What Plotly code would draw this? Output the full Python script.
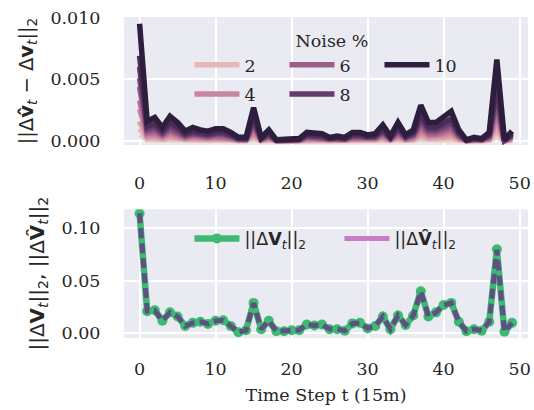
import plotly.graph_objects as go

# ---------------- data ----------------
time_steps = list(range(50))

noise_levels = [1, 2, 3, 4, 5, 6, 7, 8, 9, 10]
legend_levels = [2, 4, 6, 8, 10]

# ||Δv̂_t − Δv_t||_2 per noise level
noise_1 = [50e-5, 8e-5, 10e-5, 6e-5, 10e-5, 8e-5, 4e-5, 6e-5, 5e-5, 4e-5, 5e-5, 5e-5, 4e-5, 2e-5, 2e-5, 14e-5, 2e-5, 5e-5, 1e-5, 1e-5,
           1e-5, 1e-5, 4e-5, 3e-5, 3e-5, 2e-5, 2e-5, 2e-5, 4e-5, 4e-5, 3e-5, 3e-5, 7e-5, 2e-5, 8e-5, 3e-5, 5e-5, 15e-5, 8e-5, 8e-5,
           10e-5, 12e-5, 5e-5, 1e-5, 2e-5, 1e-5, 4e-5, 35e-5, 1e-5, 4e-5]
noise_2 = [100e-5, 18e-5, 21e-5, 12e-5, 22e-5, 17e-5, 9e-5, 12e-5, 10e-5, 9e-5, 11e-5, 11e-5, 8e-5, 3e-5, 3e-5, 30e-5, 3e-5, 10e-5, 1e-5, 1e-5,
           2e-5, 2e-5, 8e-5, 7e-5, 7e-5, 3e-5, 4e-5, 3e-5, 8e-5, 8e-5, 6e-5, 7e-5, 14e-5, 4e-5, 17e-5, 6e-5, 10e-5, 32e-5, 17e-5, 17e-5,
           21e-5, 26e-5, 10e-5, 1e-5, 3e-5, 2e-5, 8e-5, 75e-5, 1e-5, 9e-5]
noise_3 = [160e-5, 29e-5, 34e-5, 20e-5, 36e-5, 27e-5, 14e-5, 20e-5, 16e-5, 14e-5, 18e-5, 18e-5, 13e-5, 5e-5, 5e-5, 49e-5, 5e-5, 16e-5, 2e-5, 2e-5,
           4e-5, 4e-5, 13e-5, 11e-5, 11e-5, 5e-5, 7e-5, 5e-5, 13e-5, 13e-5, 9e-5, 11e-5, 23e-5, 7e-5, 27e-5, 9e-5, 16e-5, 52e-5, 27e-5, 27e-5,
           34e-5, 43e-5, 16e-5, 2e-5, 5e-5, 4e-5, 13e-5, 120e-5, 2e-5, 14e-5]
noise_4 = [260e-5, 43e-5, 51e-5, 30e-5, 54e-5, 41e-5, 22e-5, 30e-5, 24e-5, 22e-5, 27e-5, 27e-5, 19e-5, 8e-5, 8e-5, 73e-5, 8e-5, 24e-5, 3e-5, 3e-5,
           5e-5, 5e-5, 19e-5, 16e-5, 16e-5, 8e-5, 11e-5, 8e-5, 19e-5, 19e-5, 14e-5, 16e-5, 35e-5, 11e-5, 41e-5, 14e-5, 24e-5, 78e-5, 41e-5, 41e-5,
           51e-5, 65e-5, 24e-5, 3e-5, 8e-5, 5e-5, 19e-5, 180e-5, 3e-5, 22e-5]
noise_5 = [330e-5, 58e-5, 68e-5, 40e-5, 72e-5, 54e-5, 29e-5, 40e-5, 32e-5, 29e-5, 36e-5, 36e-5, 25e-5, 11e-5, 11e-5, 97e-5, 11e-5, 32e-5, 4e-5, 4e-5,
           7e-5, 7e-5, 25e-5, 22e-5, 22e-5, 11e-5, 14e-5, 11e-5, 25e-5, 25e-5, 18e-5, 22e-5, 47e-5, 14e-5, 54e-5, 18e-5, 32e-5, 104e-5, 54e-5, 54e-5,
           68e-5, 86e-5, 32e-5, 4e-5, 11e-5, 7e-5, 25e-5, 240e-5, 4e-5, 29e-5]
noise_6 = [440e-5, 72e-5, 86e-5, 50e-5, 90e-5, 68e-5, 36e-5, 50e-5, 41e-5, 36e-5, 45e-5, 45e-5, 32e-5, 14e-5, 14e-5, 122e-5, 14e-5, 41e-5, 5e-5, 5e-5,
           9e-5, 9e-5, 32e-5, 27e-5, 27e-5, 14e-5, 18e-5, 14e-5, 32e-5, 32e-5, 23e-5, 27e-5, 59e-5, 18e-5, 68e-5, 23e-5, 41e-5, 131e-5, 68e-5, 68e-5,
           86e-5, 108e-5, 41e-5, 5e-5, 14e-5, 9e-5, 32e-5, 300e-5, 5e-5, 36e-5]
noise_7 = [510e-5, 86e-5, 103e-5, 59e-5, 108e-5, 81e-5, 43e-5, 59e-5, 49e-5, 43e-5, 54e-5, 54e-5, 38e-5, 16e-5, 16e-5, 146e-5, 16e-5, 49e-5, 5e-5, 5e-5,
           11e-5, 11e-5, 38e-5, 32e-5, 32e-5, 16e-5, 22e-5, 16e-5, 38e-5, 38e-5, 27e-5, 32e-5, 70e-5, 22e-5, 81e-5, 27e-5, 49e-5, 157e-5, 81e-5, 81e-5,
           103e-5, 130e-5, 49e-5, 5e-5, 16e-5, 11e-5, 38e-5, 355e-5, 5e-5, 43e-5]
noise_8 = [600e-5, 101e-5, 120e-5, 69e-5, 126e-5, 95e-5, 50e-5, 69e-5, 57e-5, 50e-5, 63e-5, 63e-5, 44e-5, 19e-5, 19e-5, 170e-5, 19e-5, 57e-5, 6e-5, 6e-5,
           13e-5, 13e-5, 44e-5, 38e-5, 38e-5, 19e-5, 25e-5, 19e-5, 44e-5, 44e-5, 32e-5, 38e-5, 82e-5, 25e-5, 95e-5, 32e-5, 57e-5, 183e-5, 95e-5, 95e-5,
           120e-5, 151e-5, 57e-5, 6e-5, 19e-5, 13e-5, 44e-5, 415e-5, 6e-5, 50e-5]
noise_9 = [690e-5, 120e-5, 143e-5, 83e-5, 150e-5, 113e-5, 60e-5, 83e-5, 68e-5, 60e-5, 75e-5, 75e-5, 53e-5, 23e-5, 23e-5, 203e-5, 23e-5, 68e-5, 8e-5, 8e-5,
           15e-5, 15e-5, 53e-5, 45e-5, 45e-5, 23e-5, 30e-5, 23e-5, 53e-5, 53e-5, 38e-5, 45e-5, 98e-5, 30e-5, 113e-5, 38e-5, 68e-5, 218e-5, 113e-5, 113e-5,
           143e-5, 180e-5, 68e-5, 8e-5, 23e-5, 15e-5, 53e-5, 495e-5, 8e-5, 60e-5]
noise_10 = [950e-5, 160e-5, 190e-5, 110e-5, 200e-5, 150e-5, 80e-5, 110e-5, 90e-5, 80e-5, 100e-5, 100e-5, 70e-5, 30e-5, 30e-5, 270e-5, 30e-5, 90e-5, 10e-5, 10e-5,
            20e-5, 20e-5, 70e-5, 60e-5, 60e-5, 30e-5, 40e-5, 30e-5, 70e-5, 70e-5, 50e-5, 60e-5, 130e-5, 40e-5, 150e-5, 50e-5, 90e-5, 290e-5, 150e-5, 150e-5,
            190e-5, 240e-5, 90e-5, 10e-5, 30e-5, 20e-5, 70e-5, 660e-5, 10e-5, 80e-5]
noise_series = [noise_1, noise_2, noise_3, noise_4, noise_5, noise_6, noise_7, noise_8, noise_9, noise_10]

# ||ΔV_t||_2 and ||ΔV̂_t||_2
delta_v_norm = [0.114, 0.021, 0.022, 0.012, 0.020, 0.016, 0.007, 0.010, 0.011, 0.009,
                0.012, 0.0125, 0.007, 0.001, 0.003, 0.029, 0.004, 0.012, 0.002, 0.002,
                0.003, 0.003, 0.0085, 0.0075, 0.0085, 0.004, 0.004, 0.0025, 0.0095, 0.010,
                0.0047, 0.007, 0.016, 0.004, 0.017, 0.008, 0.017, 0.040, 0.016, 0.020,
                0.027, 0.029, 0.011, 0.002, 0.004, 0.0025, 0.011, 0.080, 0.0015, 0.010]
delta_v_hat_norm = [0.1142, 0.0212, 0.0218, 0.0122, 0.0198, 0.0161, 0.0071, 0.0099, 0.0111, 0.0091,
                    0.0119, 0.0124, 0.0071, 0.0011, 0.0031, 0.0288, 0.0041, 0.0119, 0.0021, 0.0021,
                    0.0031, 0.0031, 0.0084, 0.0076, 0.0084, 0.0041, 0.0041, 0.0026, 0.0094, 0.0099,
                    0.0048, 0.0071, 0.0159, 0.0041, 0.0169, 0.0081, 0.0169, 0.0398, 0.0161, 0.0199,
                    0.0268, 0.0288, 0.0111, 0.0021, 0.0041, 0.0026, 0.0109, 0.0795, 0.0016, 0.0099]

x_tick_vals = [0, 10, 20, 30, 40, 50]
x_tick_text = ["0", "10", "20", "30", "40", "50"]
top_y_tick_vals = [0.0, 0.005, 0.010]
top_y_tick_text = ["0.000", "0.005", "0.010"]
bottom_y_tick_vals = [0.0, 0.05, 0.10]
bottom_y_tick_text = ["0.00", "0.05", "0.10"]

# ---------------- style ----------------
noise_colors = ["#edd1cb", "#e4b8b8", "#d89faa", "#c8879e", "#b57194",
                "#9d5e8a", "#834c7d", "#663c6d", "#492d58", "#2d1e3e"]
GREEN = "#3dba72"
DASH_PURPLE = "#5f4f82"
ORCHID = "#c67cc6"
BG = "#eaeaf2"
TXT = "#262626"
SERIF = "DejaVu Serif"
SANS = "DejaVu Sans"
FS = 17.5

fig = go.Figure()

row1_levels = [2, 6, 10]
for lvl, series, col in zip(noise_levels, noise_series, noise_colors):
    show = lvl in legend_levels
    fig.add_trace(go.Scatter(
        x=time_steps, y=series, mode="lines", name=str(lvl),
        line=dict(color=col, width=5.5),
        showlegend=show,
        legend="legend" if lvl in row1_levels else "legend2",
        xaxis="x", yaxis="y", hoverinfo="skip"))

fig.add_trace(go.Scatter(
    x=time_steps, y=delta_v_norm, mode="lines+markers",
    name="||Δ<b>V</b><sub><i>t</i></sub>||<sub>2</sub>",
    line=dict(color=GREEN, width=6.5), marker=dict(color=GREEN, size=10),
    legend="legend3", xaxis="x2", yaxis="y2"))
fig.add_trace(go.Scatter(
    x=time_steps, y=delta_v_hat_norm, mode="lines",
    name="||Δ<b>V̂</b><sub><i>t</i></sub>||<sub>2</sub>",
    line=dict(color=DASH_PURPLE, width=5, dash="10px,5px"),
    showlegend=False, xaxis="x2", yaxis="y2"))
# legend swatch for the estimate
fig.add_trace(go.Scatter(
    x=[None], y=[None], mode="lines",
    name="||Δ<b>V̂</b><sub><i>t</i></sub>||<sub>2</sub>",
    line=dict(color=ORCHID, width=5),
    legend="legend3", xaxis="x2", yaxis="y2"))

axis_common = dict(showgrid=True, gridcolor="white", gridwidth=2.2, zeroline=False,
                   showline=False, ticks="outside", tickcolor="rgba(0,0,0,0)",
                   tickfont=dict(family=SERIF, size=FS, color=TXT))

XR = [-2.05, 51.1]
fig.update_layout(
    width=534, height=410,
    margin=dict(l=124, r=3, t=17, b=72),
    paper_bgcolor="white", plot_bgcolor=BG,
    font=dict(family=SERIF, size=FS, color=TXT),
    xaxis=dict(**axis_common, domain=[0, 1], anchor="y", range=XR,
               tickvals=x_tick_vals, ticktext=x_tick_text, ticklen=22),
    yaxis=dict(**axis_common, domain=[0.6012, 1], anchor="x", range=[-0.00032, 0.01004],
               tickvals=top_y_tick_vals, ticktext=top_y_tick_text, ticklen=19,
               title=dict(text="||Δ<b>v̂</b><sub><i>t</i></sub> − Δ<b>v</b><sub><i>t</i></sub>||<sub>2</sub>",
                          font=dict(family=SANS, size=19.5, color=TXT), standoff=11)),
    xaxis2=dict(**axis_common, domain=[0, 1], anchor="y2", range=XR,
                tickvals=x_tick_vals, ticktext=x_tick_text, ticklen=15,
                title=dict(text="Time Step t (15m)", font=dict(family=SERIF, size=FS, color=TXT),
                           standoff=10)),
    yaxis2=dict(**axis_common, domain=[0, 0.4009], anchor="x2", range=[-0.0044, 0.118],
                tickvals=bottom_y_tick_vals, ticktext=bottom_y_tick_text, ticklen=19,
                title=dict(text="||Δ<b>V</b><sub><i>t</i></sub>||<sub>2</sub>, ||Δ<b>V̂</b><sub><i>t</i></sub>||<sub>2</sub>",
                           font=dict(family=SANS, size=20, color=TXT), standoff=11)),
    legend=dict(orientation="h", x=0.162, xanchor="left", y=0.978, yanchor="top",
                bgcolor="rgba(0,0,0,0)", borderwidth=0, itemwidth=45,
                entrywidth=35, entrywidthmode="pixels",
                font=dict(family=SERIF, size=FS, color=TXT),
                title=dict(text="Noise %", side="top center",
                           font=dict(family=SERIF, size=FS, color=TXT))),
    legend2=dict(orientation="h", x=0.162, xanchor="left", y=0.8156, yanchor="top",
                 bgcolor="rgba(0,0,0,0)", borderwidth=0, itemwidth=45,
                 entrywidth=35, entrywidthmode="pixels",
                 font=dict(family=SERIF, size=FS, color=TXT)),
    legend3=dict(orientation="h", x=0.162, xanchor="left", y=0.366, yanchor="top",
                 bgcolor="rgba(0,0,0,0)", borderwidth=0, itemwidth=45,
                 entrywidth=90, entrywidthmode="pixels",
                 font=dict(family=SANS, size=FS, color=TXT)),
)

fig.write_html("out.html", config={"displayModeBar": False},
               post_script="document.body.style.margin='0';document.body.style.overflow='hidden';")
